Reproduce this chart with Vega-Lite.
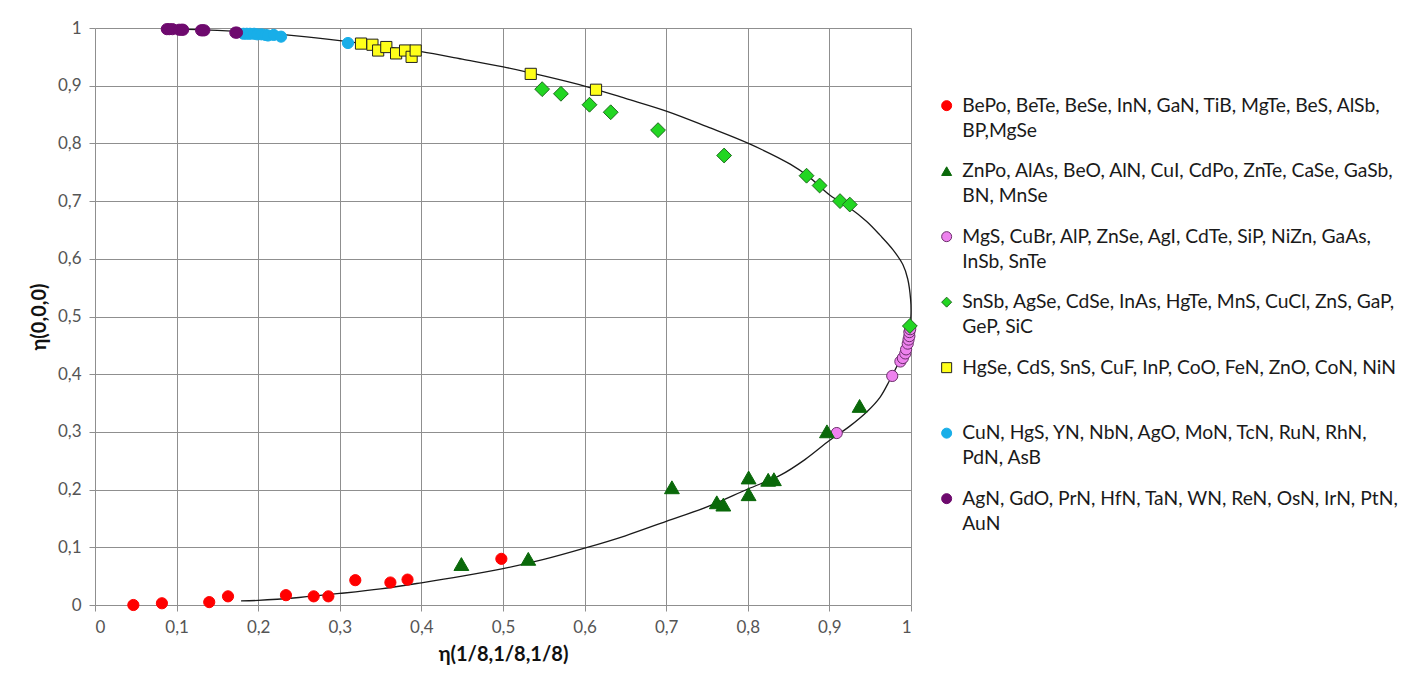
{
  "$schema": "https://vega.github.io/schema/vega-lite/v6.json",
  "width": 816,
  "height": 577,
  "autosize": {"type": "none"},
  "padding": {"left": 95, "top": 28, "right": 509, "bottom": 79},
  "background": "white",
  "config": {
    "view": {"stroke": null},
    "font": "Lato",
    "style": {"guide-label": {"lineHeight": 25}},
    "axis": {
      "gridColor": "#8f8f8f",
      "gridWidth": 1,
      "gridOpacity": 1,
      "domain": false,
      "tickColor": "#8f8f8f",
      "tickSize": 6,
      "labelColor": "#555555",
      "labelFontSize": 17,
      "labelFont": "Lato",
      "titleFont": "Lato",
      "titleFontSize": 20,
      "titleFontWeight": "bold",
      "titleColor": "#111111"
    },
    "legend": {
      "orient": "none",
      "legendX": 842,
      "legendY": 68,
      "title": null,
      "symbolSize": 100,
      "symbolStrokeWidth": 1,
      "labelFont": "Lato",
      "labelFontSize": 19.3,
      "labelColor": "#1a1a1a",
      "labelLimit": 0,
      "labelOffset": 6,
      "rowPadding": 20.5
    }
  },
  "datasets": {
    "sets": [
      {"set": "A", "compounds": "BePo, BeTe, BeSe, InN, GaN, TiB, MgTe, BeS, AlSb,\nBP,MgSe"},
      {"set": "B", "compounds": "ZnPo, AlAs, BeO, AlN, CuI, CdPo, ZnTe, CaSe, GaSb,\nBN, MnSe"},
      {"set": "C", "compounds": "MgS, CuBr, AlP, ZnSe, AgI, CdTe, SiP, NiZn, GaAs,\nInSb, SnTe"},
      {"set": "D", "compounds": "SnSb, AgSe, CdSe, InAs, HgTe, MnS, CuCl, ZnS, GaP,\nGeP, SiC"},
      {"set": "E", "compounds": "HgSe, CdS, SnS, CuF, InP, CoO, FeN, ZnO, CoN, NiN\n "},
      {"set": "F", "compounds": "CuN, HgS, YN, NbN, AgO, MoN, TcN, RuN, RhN,\nPdN, AsB"},
      {"set": "G", "compounds": "AgN, GdO, PrN, HfN, TaN, WN, ReN, OsN, IrN, PtN,\nAuN"}
    ],
    "points": [
      {"set": "A", "x": 0.047, "y": 0.0},
      {"set": "A", "x": 0.082, "y": 0.003},
      {"set": "A", "x": 0.140, "y": 0.005},
      {"set": "A", "x": 0.163, "y": 0.015},
      {"set": "A", "x": 0.234, "y": 0.017},
      {"set": "A", "x": 0.268, "y": 0.015},
      {"set": "A", "x": 0.286, "y": 0.015},
      {"set": "A", "x": 0.319, "y": 0.043},
      {"set": "A", "x": 0.362, "y": 0.039},
      {"set": "A", "x": 0.383, "y": 0.044},
      {"set": "A", "x": 0.498, "y": 0.080},
      {"set": "B", "x": 0.449, "y": 0.071},
      {"set": "B", "x": 0.531, "y": 0.080},
      {"set": "B", "x": 0.707, "y": 0.204},
      {"set": "B", "x": 0.762, "y": 0.178},
      {"set": "B", "x": 0.770, "y": 0.174},
      {"set": "B", "x": 0.801, "y": 0.221},
      {"set": "B", "x": 0.801, "y": 0.192},
      {"set": "B", "x": 0.825, "y": 0.217},
      {"set": "B", "x": 0.832, "y": 0.218},
      {"set": "B", "x": 0.897, "y": 0.301},
      {"set": "B", "x": 0.937, "y": 0.345},
      {"set": "C", "x": 0.909, "y": 0.298},
      {"set": "C", "x": 0.977, "y": 0.397},
      {"set": "C", "x": 0.987, "y": 0.422},
      {"set": "C", "x": 0.990, "y": 0.428},
      {"set": "C", "x": 0.993, "y": 0.436},
      {"set": "C", "x": 0.994, "y": 0.443},
      {"set": "C", "x": 0.996, "y": 0.453},
      {"set": "C", "x": 0.997, "y": 0.460},
      {"set": "C", "x": 0.998, "y": 0.466},
      {"set": "C", "x": 0.998, "y": 0.473},
      {"set": "C", "x": 0.999, "y": 0.478},
      {"set": "D", "x": 0.548, "y": 0.894},
      {"set": "D", "x": 0.571, "y": 0.886},
      {"set": "D", "x": 0.606, "y": 0.867},
      {"set": "D", "x": 0.632, "y": 0.854},
      {"set": "D", "x": 0.690, "y": 0.823},
      {"set": "D", "x": 0.771, "y": 0.779},
      {"set": "D", "x": 0.872, "y": 0.744},
      {"set": "D", "x": 0.888, "y": 0.727},
      {"set": "D", "x": 0.913, "y": 0.700},
      {"set": "D", "x": 0.925, "y": 0.694},
      {"set": "D", "x": 0.9986, "y": 0.4835},
      {"set": "E", "x": 0.326, "y": 0.973},
      {"set": "E", "x": 0.340, "y": 0.971},
      {"set": "E", "x": 0.347, "y": 0.961},
      {"set": "E", "x": 0.357, "y": 0.967},
      {"set": "E", "x": 0.369, "y": 0.956},
      {"set": "E", "x": 0.380, "y": 0.961},
      {"set": "E", "x": 0.388, "y": 0.950},
      {"set": "E", "x": 0.393, "y": 0.961},
      {"set": "E", "x": 0.534, "y": 0.9205},
      {"set": "E", "x": 0.614, "y": 0.893},
      {"set": "F", "x": 0.182, "y": 0.990},
      {"set": "F", "x": 0.186, "y": 0.990},
      {"set": "F", "x": 0.190, "y": 0.990},
      {"set": "F", "x": 0.195, "y": 0.990},
      {"set": "F", "x": 0.199, "y": 0.989},
      {"set": "F", "x": 0.204, "y": 0.989},
      {"set": "F", "x": 0.209, "y": 0.988},
      {"set": "F", "x": 0.212, "y": 0.987},
      {"set": "F", "x": 0.219, "y": 0.988},
      {"set": "F", "x": 0.228, "y": 0.985},
      {"set": "F", "x": 0.310, "y": 0.974},
      {"set": "G", "x": 0.088, "y": 0.998},
      {"set": "G", "x": 0.091, "y": 0.998},
      {"set": "G", "x": 0.095, "y": 0.998},
      {"set": "G", "x": 0.103, "y": 0.997},
      {"set": "G", "x": 0.106, "y": 0.997},
      {"set": "G", "x": 0.108, "y": 0.997},
      {"set": "G", "x": 0.130, "y": 0.996},
      {"set": "G", "x": 0.132, "y": 0.996},
      {"set": "G", "x": 0.134, "y": 0.996},
      {"set": "G", "x": 0.172, "y": 0.992},
      {"set": "G", "x": 0.174, "y": 0.992}
    ],
    "curve": [
      {"i": 1, "x": 0.179, "y": 0.007},
      {"i": 2, "x": 0.2, "y": 0.008},
      {"i": 3, "x": 0.25, "y": 0.013},
      {"i": 4, "x": 0.3, "y": 0.02},
      {"i": 5, "x": 0.35, "y": 0.028},
      {"i": 6, "x": 0.4, "y": 0.0385},
      {"i": 7, "x": 0.45, "y": 0.05},
      {"i": 8, "x": 0.5, "y": 0.063},
      {"i": 9, "x": 0.55, "y": 0.079},
      {"i": 10, "x": 0.6, "y": 0.0985},
      {"i": 11, "x": 0.65, "y": 0.12},
      {"i": 12, "x": 0.7, "y": 0.145},
      {"i": 13, "x": 0.75, "y": 0.17},
      {"i": 14, "x": 0.8, "y": 0.201},
      {"i": 15, "x": 0.84, "y": 0.225},
      {"i": 16, "x": 0.87, "y": 0.252},
      {"i": 17, "x": 0.9, "y": 0.285},
      {"i": 18, "x": 0.925, "y": 0.31},
      {"i": 19, "x": 0.946, "y": 0.335},
      {"i": 20, "x": 0.962, "y": 0.36},
      {"i": 21, "x": 0.974, "y": 0.39},
      {"i": 22, "x": 0.988, "y": 0.43},
      {"i": 23, "x": 0.995, "y": 0.46},
      {"i": 24, "x": 0.999, "y": 0.485},
      {"i": 25, "x": 1.0, "y": 0.505},
      {"i": 26, "x": 0.9995, "y": 0.53},
      {"i": 27, "x": 0.996, "y": 0.565},
      {"i": 28, "x": 0.99, "y": 0.59},
      {"i": 29, "x": 0.978, "y": 0.6155},
      {"i": 30, "x": 0.962, "y": 0.641},
      {"i": 31, "x": 0.9457, "y": 0.6646},
      {"i": 32, "x": 0.925, "y": 0.688},
      {"i": 33, "x": 0.9007, "y": 0.71},
      {"i": 34, "x": 0.875, "y": 0.742},
      {"i": 35, "x": 0.852, "y": 0.764},
      {"i": 36, "x": 0.8015, "y": 0.7995},
      {"i": 37, "x": 0.75, "y": 0.829},
      {"i": 38, "x": 0.701, "y": 0.8556},
      {"i": 39, "x": 0.65, "y": 0.878},
      {"i": 40, "x": 0.601, "y": 0.899},
      {"i": 41, "x": 0.55, "y": 0.917},
      {"i": 42, "x": 0.5004, "y": 0.9326},
      {"i": 43, "x": 0.45, "y": 0.946},
      {"i": 44, "x": 0.4, "y": 0.959},
      {"i": 45, "x": 0.35, "y": 0.969},
      {"i": 46, "x": 0.3, "y": 0.978},
      {"i": 47, "x": 0.25, "y": 0.986},
      {"i": 48, "x": 0.2, "y": 0.992},
      {"i": 49, "x": 0.15, "y": 0.996},
      {"i": 50, "x": 0.1, "y": 0.998},
      {"i": 51, "x": 0.09, "y": 0.998}
    ]
  },
  "encoding": {
    "x": {
      "field": "x",
      "type": "quantitative",
      "scale": {"domain": [0, 1], "nice": false},
      "axis": {
        "title": "η(1/8,1/8,1/8)",
        "values": [0, 0.1, 0.2, 0.3, 0.4, 0.5, 0.6, 0.7, 0.8, 0.9, 1],
        "format": ".1~f",
        "labelExpr": "replace(datum.label, '.', ',')",
        "labelPadding": 8,
        "titlePadding": 9
      }
    },
    "y": {
      "field": "y",
      "type": "quantitative",
      "scale": {"domain": [0, 1], "nice": false},
      "axis": {
        "title": "η(0,0,0)",
        "values": [0, 0.1, 0.2, 0.3, 0.4, 0.5, 0.6, 0.7, 0.8, 0.9, 1],
        "format": ".1~f",
        "labelExpr": "replace(datum.label, '.', ',')",
        "labelPadding": 8,
        "titlePadding": 8
      }
    }
  },
  "layer": [
    {
      "data": {"name": "curve"},
      "mark": {"type": "line", "color": "#1a1a1a", "strokeWidth": 1.3, "interpolate": "catmull-rom"},
      "encoding": {"order": {"field": "i", "type": "quantitative"}}
    },
    {
      "data": {"name": "points"},
      "transform": [
        {"lookup": "set", "from": {"data": {"name": "sets"}, "key": "set", "fields": ["compounds"]}}
      ],
      "encoding": {
        "fill": {
          "field": "compounds",
          "type": "nominal",
          "sort": {"field": "set", "op": "min"},
          "scale": {"range": ["#ff0000", "#0a690a", "#ee82ee", "#22d622", "#ffff1a", "#18aee8", "#6e0a6e"]},
          "legend": {"labelExpr": "split(datum.label, '\\n')"}
        },
        "stroke": {
          "field": "compounds",
          "type": "nominal",
          "sort": {"field": "set", "op": "min"},
          "scale": {"range": ["#ff0000", "#0a690a", "#6b2f6b", "#1f6a1f", "#222222", "#18aee8", "#6e0a6e"]}
        },
        "shape": {
          "field": "compounds",
          "type": "nominal",
          "sort": {"field": "set", "op": "min"},
          "scale": {"range": ["circle", "triangle-up", "circle", "diamond", "square", "circle", "circle"]}
        }
      },
      "layer": [
        {
          "transform": [{"filter": {"field": "set", "oneOf": ["A", "C", "E", "F", "G"]}}],
          "mark": {"type": "point", "filled": true, "opacity": 1, "strokeWidth": 1, "size": 125}
        },
        {
          "transform": [{"filter": {"field": "set", "oneOf": ["B", "D"]}}],
          "mark": {"type": "point", "filled": true, "opacity": 1, "strokeWidth": 1, "size": 220}
        }
      ]
    }
  ]
}
